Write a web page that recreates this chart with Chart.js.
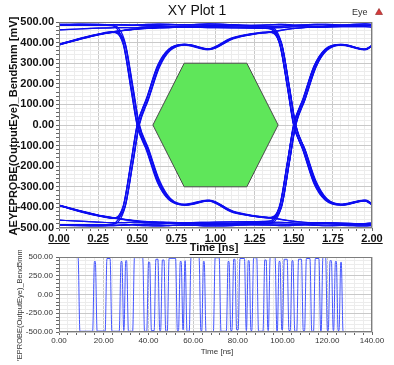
<!DOCTYPE html>
<html>
<head>
<meta charset="utf-8">
<script src="https://cdn.jsdelivr.net/npm/chart.js@4.4.0/dist/chart.umd.min.js"></script>
<style>
  html, body { margin:0; padding:0; background:#fff; }
  #wrap { position:relative; width:394px; height:365px; overflow:hidden; }
  #eye { position:absolute; left:0; top:0; }
  #wave { position:absolute; left:0; top:245px; }
</style>
</head>
<body>
<div id="wrap">
  <canvas id="eye" width="394" height="258"></canvas>
  <canvas id="wave" width="394" height="120"></canvas>
</div>
<script>
// Eye diagram + time trace
const FONT = 'Arial, "Liberation Sans", sans-serif';
const Y_TITLE = 'AEYEPROBE(OutputEye)_Bend5mm [mV]';

// eye traces: shared time axis [ns], values [mV]
const EYE_T = [0, 0.12, 0.24, 0.34, 0.41, 0.46, 0.5, 0.56, 0.63, 0.7, 0.8, 0.95, 1.1, 1.22, 1.34, 1.41, 1.46, 1.5, 1.56, 1.63, 1.7, 1.8, 1.95, 2.0];
// same traces seen a little later (jitter), gives the thick bands
const EYE_T_LATE = [0, 0.132, 0.252, 0.352, 0.422, 0.472, 0.512, 0.572, 0.642, 0.712, 0.812, 0.962, 1.112, 1.232, 1.352, 1.422, 1.472, 1.512, 1.572, 1.642, 1.712, 1.812, 1.962, 2.0];

const hiSteady1 = [488, 490, 489, 487, 486, 485, 486, 488, 490, 489, 486, 491, 487, 484, 486, 488, 487, 485, 486, 488, 489, 486, 491, 488];
const hiSteady2 = [462, 466, 470, 472, 473, 471, 473, 476, 478, 477, 474, 479, 476, 473, 471, 473, 475, 477, 476, 474, 475, 477, 478, 474];
const hiTailHigh = [392, 418, 440, 452, 460, 464, 467, 470, 474, 477, 479, 481, 482, 480, 479, 480, 482, 483, 482, 480, 481, 483, 485, 483];
const hiTailFall = [388, 415, 437, 450, 392, 172, -6, -126, -282, -362, -388, -367, -418, -438, -450, -458, -464, -468, -472, -475, -477, -479, -482, -480];
const hiFallRise = [486, 487, 485, 482, 402, 190, 8, -114, -268, -356, -385, -364, -422, -440, -449, -394, -184, 6, 128, 286, 368, 391, 366, 384];
const hiTailFallRise = [390, 416, 439, 453, 395, 178, 0, -120, -275, -360, -389, -369, -420, -441, -452, -398, -178, -4, 122, 280, 365, 389, 368, 386];
const hiHighFall = [484, 483, 485, 487, 486, 484, 483, 482, 484, 486, 487, 485, 483, 481, 478, 398, 186, 4, -122, -282, -362, -387, -366, -386];
const hiTailHighFall = [391, 417, 438, 451, 459, 463, 466, 469, 471, 473, 475, 473, 471, 470, 468, 392, 178, -6, -118, -272, -358, -385, -364, -383];

const loSteady1 = [-487, -489, -490, -488, -486, -485, -487, -489, -490, -488, -485, -490, -488, -485, -486, -488, -489, -486, -485, -487, -489, -487, -490, -488];
const loSteady2 = [-462, -467, -471, -474, -474, -472, -472, -475, -477, -478, -475, -478, -477, -474, -472, -472, -474, -476, -477, -475, -474, -476, -479, -475];
const loTailLow = [-390, -417, -439, -451, -459, -464, -468, -471, -474, -476, -478, -480, -481, -480, -480, -481, -482, -484, -483, -481, -480, -482, -484, -482];
const loTailRise = [-389, -415, -438, -452, -393, -178, 4, 128, 286, 366, 391, 368, 420, 440, 451, 459, 465, 469, 473, 476, 478, 480, 483, 481];
const loRiseFall = [-485, -486, -484, -481, -400, -188, -6, 124, 280, 362, 388, 366, 418, 439, 449, 396, 188, 2, -126, -286, -364, -389, -367, -385];
const loTailRiseFall = [-391, -418, -440, -453, -396, -182, 2, 132, 290, 368, 392, 369, 422, 442, 452, 394, 182, -2, -120, -278, -360, -386, -368, -387];
const loLowRise = [-483, -484, -486, -487, -485, -483, -482, -483, -485, -487, -486, -484, -482, -480, -477, -396, -182, -2, 130, 288, 366, 390, 367, 385];
const loTailLowRise = [-390, -416, -437, -450, -458, -463, -466, -469, -471, -473, -474, -472, -470, -469, -467, -390, -176, 4, 124, 282, 362, 388, 366, 384];

// eye mask (hexagon)
const HEX_T = [0.6, 0.8, 1.2, 1.4, 1.2, 0.8, 0.6];
const HEX_MV = [0, 300, 300, 0, -300, -300, 0];

// time trace: level at start, edge times [ns] and level after each edge [mV]
const WAVE_START_MV = 495;
const WAVE_END_T = 127.2;
const WAVE_EDGE_T = [8.9, 15.4, 16.6, 21.0, 23.2, 27.3, 28.5, 29.4, 30.6, 33.3,
  37.8, 39.6, 40.9, 42.9, 44.6, 45.8, 47.3, 48.8, 52.5, 53.8,
  55.0, 55.9, 56.8, 58.6, 63.0, 64.2, 65.3, 69.4, 72.0, 75.2,
  76.4, 77.7, 79.0, 80.5, 83.3, 84.2, 85.4, 86.6, 88.8, 91.6,
  93.0, 94.0, 97.0, 98.0, 99.2, 100.3, 102.4, 103.8, 105.0, 106.7,
  108.8, 110.2, 112.6, 114.2, 116.6, 117.6, 119.6, 120.8, 122.2, 123.2,
  124.4, 125.6, 126.6];
const WAVE_EDGE_MV = [-490, 440, -488, 480, -490, 440, -480, 450, -490, 492,
  -490, 430, -482, 470, -480, 460, -490, 482, -480, 440,
  -470, 450, -490, 495, -480, 440, -495, 490, -490, 440,
  -480, 470, -470, 480, -480, 450, -480, 490, -490, 460,
  -480, 495, -490, 440, -470, 470, -480, 450, -490, 470,
  -480, 480, -490, 480, -490, 495, -480, 450, -480, 440,
  -480, 430, -490];

const EYE_TRACES = [hiSteady1, hiSteady2, hiTailHigh, hiTailFall, hiFallRise, hiTailFallRise, hiHighFall, hiTailHighFall,
  loSteady1, loSteady2, loTailLow, loTailRise, loRiseFall, loTailRiseFall, loLowRise, loTailLowRise];

const MAJOR_GRID = '#c9c9c9', MINOR_GRID = '#ececec';

function gridScale(min, max, step, major, fit, tickFont, tickColor, pad, fmt){
  const isMajor = v => Math.abs(v/major - Math.round(v/major)) < 1e-6;
  return {
    type: 'linear', min, max,
    afterFit: fit,
    grid: {
      color: c => (c.tick && isMajor(c.tick.value)) ? MAJOR_GRID : MINOR_GRID,
      tickColor: '#666', tickLength: 3, drawTicks: true
    },
    border: { display: false },
    ticks: {
      stepSize: step, autoSkip: false, maxRotation: 0, minRotation: 0, maxTicksLimit: 1000,
      padding: pad, color: tickColor, font: tickFont,
      callback: v => isMajor(v) ? fmt(v) : ''
    }
  };
}

function frame(ctx, a){
  ctx.strokeStyle = '#7d7d7d'; ctx.lineWidth = 1;
  ctx.strokeRect(Math.round(a.left)+0.5, Math.round(a.top)+0.5, Math.round(a.right-a.left)-1, Math.round(a.bottom-a.top)-1);
}

const eyeDecor = {
  id: 'eyeDecor',
  afterDraw(chart){
    const {ctx, chartArea: a, scales} = chart;
    ctx.save();
    frame(ctx, a);
    // title
    ctx.fillStyle = '#111';
    ctx.font = '14px ' + FONT;
    ctx.textAlign = 'center'; ctx.textBaseline = 'middle';
    ctx.fillText('XY Plot 1', 197, 11);
    // legend
    ctx.font = '9px ' + FONT; ctx.fillStyle = '#333'; ctx.textAlign = 'left';
    ctx.fillText('Eye', 352, 13);
    ctx.beginPath(); ctx.moveTo(379, 8.5); ctx.lineTo(382.5, 14.5); ctx.lineTo(375.5, 14.5); ctx.closePath();
    ctx.fillStyle = '#d63a3a'; ctx.fill(); ctx.strokeStyle = '#8a2020'; ctx.lineWidth = 0.6; ctx.stroke();
    // underline the x tick labels
    ctx.font = 'bold 11px ' + FONT;
    ctx.strokeStyle = '#111'; ctx.lineWidth = 1;
    scales.x.ticks.forEach(t => {
      if(!t.label) return;
      const x = scales.x.getPixelForValue(t.value);
      const w = ctx.measureText(t.label).width;
      ctx.beginPath(); ctx.moveTo(x - w/2, 243.5); ctx.lineTo(x + w/2, 243.5); ctx.stroke();
    });
    // x title
    ctx.fillStyle = '#111'; ctx.textAlign = 'center';
    ctx.fillText('Time [ns]', 214, 248);
    const tw = ctx.measureText('Time [ns]').width;
    ctx.beginPath(); ctx.moveTo(214 - tw/2, 254.5); ctx.lineTo(214 + tw/2, 254.5); ctx.stroke();
    // y title
    ctx.translate(14, 126); ctx.rotate(-Math.PI/2);
    ctx.fillText(Y_TITLE, 0, 0);
    ctx.restore();
  }
};

const waveDecor = {
  id: 'waveDecor',
  afterDraw(chart){
    const {ctx, chartArea: a} = chart;
    ctx.save();
    frame(ctx, a);
    ctx.fillStyle = '#333';
    ctx.font = '8px ' + FONT;
    ctx.textAlign = 'center'; ctx.textBaseline = 'middle';
    ctx.fillText('Time [ns]', 217, 107);
    // y title is longer than the plot, clipped like the original
    ctx.font = '7.5px ' + FONT;
    ctx.beginPath(); ctx.rect(0, 5, 40, 111); ctx.clip();
    ctx.translate(19.5, 58); ctx.rotate(-Math.PI/2);
    ctx.fillText(Y_TITLE, 0, 0);
    ctx.restore();
  }
};

// eye chart
const eyeSets = [];
[EYE_T, EYE_T_LATE].forEach(times => {
  EYE_TRACES.forEach(v => eyeSets.push({
    data: times.map((t, i) => ({x: t, y: v[i]})),
    showLine: true, borderColor: '#0d0df0', borderWidth: 1.2,
    pointRadius: 0, cubicInterpolationMode: 'monotone', fill: false, order: 0
  }));
});
eyeSets.push({
  data: HEX_T.map((t, i) => ({x: t, y: HEX_MV[i]})),
  showLine: true, fill: 'shape', backgroundColor: '#5fe65a', borderColor: '#4a4a4a',
  borderWidth: 1, pointRadius: 0, tension: 0, order: 1
});

const eyeFont = {family: FONT, size: 11, weight: 'bold'};
new Chart(document.getElementById('eye'), {
  type: 'scatter',
  data: { datasets: eyeSets },
  options: {
    responsive: false, animation: false, events: [],
    layout: { padding: {left: 0, right: 22, top: 22, bottom: 0} },
    plugins: { legend: {display: false}, tooltip: {enabled: false}, title: {display: false} },
    scales: {
      x: gridScale(0, 2, 0.05, 0.25, s => { s.height = 30; }, eyeFont, '#111', 1, v => v.toFixed(2)),
      y: gridScale(-500, 500, 20, 100, s => { s.width = 59; }, eyeFont, '#111', 2, v => v.toFixed(2))
    }
  },
  plugins: [eyeDecor]
});

// time trace
const wavePts = [{x: 0, y: WAVE_START_MV}];
let prev = WAVE_START_MV;
WAVE_EDGE_T.forEach((t, i) => {
  wavePts.push({x: t - 0.35, y: prev});
  wavePts.push({x: t + 0.45, y: WAVE_EDGE_MV[i]});
  prev = WAVE_EDGE_MV[i];
});
wavePts.push({x: WAVE_END_T, y: prev});

const waveFont = {family: FONT, size: 8};
new Chart(document.getElementById('wave'), {
  type: 'scatter',
  data: { datasets: [{
    data: wavePts, showLine: true, borderColor: '#4455ff', borderWidth: 1,
    pointRadius: 0, cubicInterpolationMode: 'monotone', fill: false
  }] },
  options: {
    responsive: false, animation: false, events: [],
    layout: { padding: {left: 0, right: 22, top: 12, bottom: 0} },
    plugins: { legend: {display: false}, tooltip: {enabled: false} },
    scales: {
      x: gridScale(0, 140, 4, 20, s => { s.height = 33; }, waveFont, '#333', 1, v => v.toFixed(2)),
      y: gridScale(-500, 500, 50, 250, s => { s.width = 59; }, waveFont, '#333', 3, v => v.toFixed(2))
    }
  },
  plugins: [waveDecor]
});
</script>
</body>
</html>
